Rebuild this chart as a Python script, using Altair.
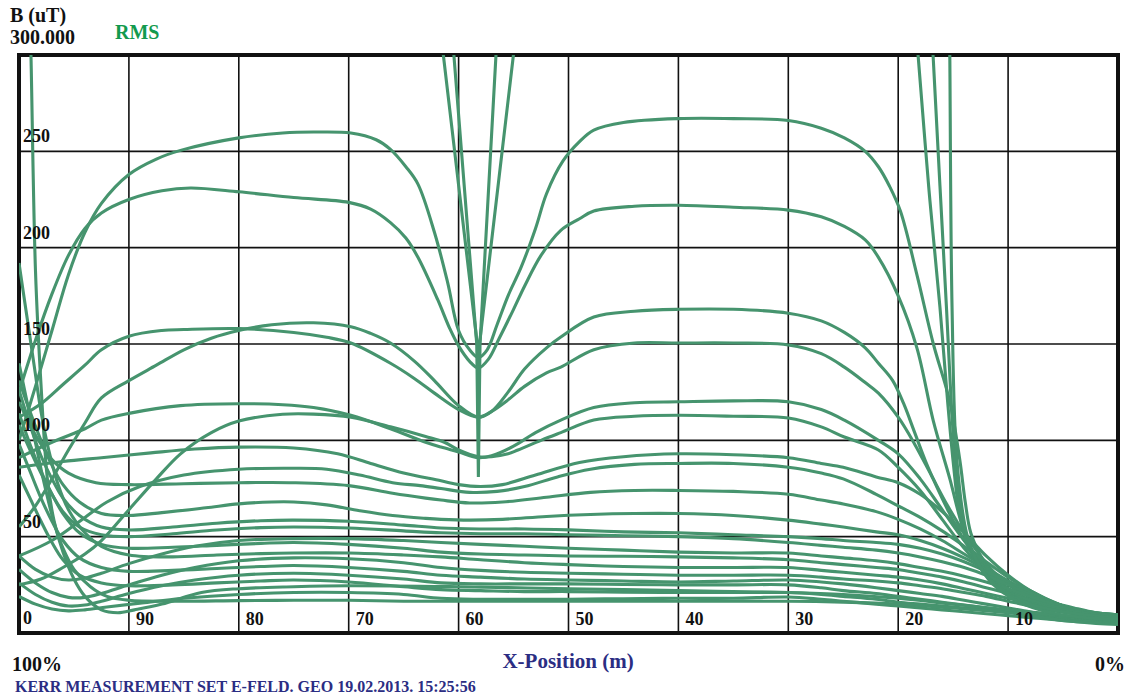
import altair as alt
import pandas as pd

GREEN = "#46946e"
NAVY = "#2b2d83"
RMS_GREEN = "#129a4e"
INK = "#111111"
SERIF = "Liberation Serif"

W, H = 1099, 578

# Field profiles: (x-position, B in uT) pairs, running from 100 (left) to 0 (right)
profile_top_outer = [(100, 100), (98.5, 128), (97, 157), (95.5, 186), (94, 208), (92.5, 223),
                     (90, 238), (87.5, 246), (85.3, 250.5), (80, 257), (76, 259.5), (73.2, 260), (69.8, 259.5),
                     (67.5, 256), (66.2, 251), (64.8, 242), (63.7, 233), (62.2, 208), (61, 182), (60, 157),
                     (59, 147), (58.2, 143), (57.4, 147), (56.5, 160), (55.5, 175), (54.3, 190), (53, 210),
                     (52, 228), (50.5, 245), (49, 255), (47.7, 261), (45, 265), (40, 267), (35, 267), (30, 266),
                     (27, 262), (24.9, 257), (23, 250), (21.8, 242), (20.8, 232), (19.8, 219), (18.3, 186),
                     (16.8, 150), (15.3, 120), (14.4, 90), (13.9, 68), (13.4, 52), (12.5, 40), (11.5, 31),
                     (9.5, 21), (6.4, 13.5), (3, 10), (0, 8)]
profile_top_inner = [(100, 125), (98.5, 152), (97, 176), (95.5, 196), (94, 210), (92.5, 218),
                     (90, 225), (87, 229.5), (84.4, 231), (80, 229), (75, 226), (70, 223.5), (68, 220),
                     (66.2, 213), (64.8, 205), (63.7, 195), (61.9, 173), (60.8, 158), (60, 149), (59, 141),
                     (58.2, 137.5), (57.3, 142), (56.3, 153), (55, 168), (54, 180), (52.5, 196), (50.7, 209),
                     (49, 215), (47.7, 219), (44, 221.5), (40, 222), (35, 221), (30, 219.5), (27, 216),
                     (24.9, 211), (23, 204), (21.8, 195), (20, 175), (18.3, 148), (16.8, 110), (15.3, 80),
                     (14.3, 58), (13.4, 43), (11.8, 30), (9.5, 20), (6.4, 13), (3, 10), (0, 8)]
profile_mid_a = [(100, 55), (98.5, 66), (97, 80), (95.5, 95), (94, 109), (92.5, 122), (90, 131), (87.5, 139),
                 (85, 147), (82.5, 153), (80, 157), (77, 160), (73.2, 161), (69.8, 159), (68, 155.5),
                 (66.2, 150.5), (64, 141), (62.2, 131), (60, 118), (58.2, 112), (57, 115), (55.5, 125),
                 (54, 137), (52, 148), (50.7, 153.6), (47.7, 164), (44, 167), (40, 168), (35, 168), (30, 166),
                 (27, 162), (24.9, 156), (23, 148), (21.8, 140), (20.5, 131), (19.5, 119), (18.5, 104),
                 (17.5, 89), (16.5, 76), (15.5, 64), (14.5, 53), (13.6, 45), (12.5, 37), (11.8, 31),
                 (9.5, 20), (6.5, 13.5), (3, 10), (0, 8)]
profile_mid_b = [(100, 112), (98, 119), (96, 129), (94, 139), (92.5, 147), (90, 154), (87, 157), (85, 157.5),
                 (80, 158), (75, 156), (72, 153.5), (69.8, 150.5), (66.2, 140), (64, 132), (62.2, 124.5),
                 (60, 116), (58.2, 112), (57, 115), (55.5, 121), (54, 128), (52, 135), (50.7, 138),
                 (47.7, 147), (44, 150.5), (40, 150.5), (35, 150.5), (30, 149.5), (27, 145), (24.9, 138),
                 (23, 130), (21.8, 124.5), (20, 112), (18.5, 98), (17, 82), (15.5, 66), (14, 52), (12.5, 40),
                 (11, 30), (9, 22), (6.5, 15), (3, 11), (0, 9)]
profile_mid_c = [(100, 91), (97, 99), (94, 106), (92.5, 110.5), (90, 114), (85.3, 118), (80, 119), (76, 118.5),
                 (73.2, 117), (69.8, 113), (66.2, 106), (63, 99), (61.6, 96.5), (60, 94), (58.2, 91), (57, 92),
                 (55, 97), (53, 104), (50.7, 110.5), (47.7, 117), (44, 119.5), (40, 120), (35, 120.5),
                 (30, 120), (27, 116), (24.9, 110.5), (21.8, 100), (20, 93), (18, 80), (16, 64), (14, 48),
                 (12, 35), (10, 25), (7, 16), (4, 11), (0, 9)]
profile_mid_d = [(100, 25), (98, 28), (96, 34), (94, 41), (92.5, 48), (90, 64), (87.5, 80), (85.3, 93),
                 (82.5, 104), (80, 110), (76, 113.5), (73.2, 113.6), (69.8, 112), (66.2, 107), (63, 102),
                 (61.3, 99), (60, 95), (58.2, 91.5), (57, 91.5), (55.5, 93), (54.6, 95), (52.5, 100),
                 (50.7, 104), (47.7, 110.5), (44, 112.5), (40, 113), (35, 112.5), (30, 111.6), (27, 107),
                 (24.9, 101.7), (21.8, 95), (20, 86), (18, 74), (16, 59), (14, 44), (12, 32), (10, 23),
                 (7, 15), (4, 11), (0, 8)]
profile_low_01 = [(100, 86), (96, 89), (92.5, 91), (88, 93.5), (84, 95.5), (80, 96.5), (75, 96), (71, 93),
                  (68, 88), (65, 83), (61.6, 79), (60, 77), (58, 76), (56, 77), (53, 82), (49, 88.5),
                  (45, 91.5), (40, 93), (35, 92.5), (30, 91), (27, 88), (25, 86), (22, 81), (20, 78),
                  (18, 72), (16, 63), (14, 52), (12, 40), (10, 30), (8, 22), (5, 14), (2.5, 10), (0, 9)]
profile_low_02 = [(100, 40), (97, 48), (94, 60), (92, 68), (89, 76), (85, 82), (80, 85), (75, 85.5), (72, 85),
                  (69, 82), (66, 78), (63.5, 76.5), (61.6, 75), (59, 73), (56.5, 73.5), (54, 76), (51, 81),
                  (48, 85), (44, 87.5), (40, 88), (35, 88), (30, 86), (27, 83), (25, 80), (22, 72), (20, 66),
                  (18, 60), (16, 53), (14, 45), (12, 37), (10, 29), (8, 22), (5, 14), (2.5, 10.5), (0, 9.5)]
profile_low_03 = [(100, 120), (99, 108), (98, 98), (97, 90), (95.5, 83), (93, 78), (90, 77), (85, 77.5),
                  (80, 78), (75, 78), (70, 76.5), (66, 72.5), (63, 70), (61.6, 69), (59, 67.5), (56, 68),
                  (52, 70.5), (48, 73), (44, 74), (40, 74), (35, 73.5), (30, 72), (27, 69), (25, 67), (22, 63),
                  (20, 59), (18, 54), (16, 48), (14, 41), (12, 34), (10, 27), (8, 21), (6, 16), (4, 12.5),
                  (2, 10.5), (0, 9.5)]
profile_low_04 = [(100, 131), (99, 115), (98, 100), (97, 87), (96, 77), (94.5, 68), (92.5, 62), (90, 61),
                  (87, 62.5), (83, 65), (80, 67), (77, 68), (75, 68), (72, 66.5), (69, 63.5), (66, 61),
                  (63, 59.5), (61.6, 59), (59, 58.6), (56, 59), (52, 60.5), (48, 61.5), (44, 62), (40, 62),
                  (35, 61), (30, 58.6), (27, 56.5), (25, 55), (22, 52.5), (20, 51), (18, 48), (16, 44),
                  (14, 39), (12, 33), (10, 27), (8, 21), (6, 16), (4, 12.5), (2, 10), (0, 9)]
profile_low_05 = [(100, 126), (99, 108), (98, 92), (97, 80), (96, 70), (94.5, 61), (92.5, 55), (90, 53.5),
                  (86, 55), (82, 57), (78, 58.3), (75, 58.6), (70, 58), (65, 56), (61.6, 54.5), (58, 54),
                  (54, 54), (50, 53.5), (45, 52.5), (40, 52), (35, 51), (30, 50), (27, 49), (25, 48), (22, 47),
                  (20, 46), (18, 44), (16, 41), (14, 37), (12, 32), (10, 26), (8, 21), (6, 16), (4, 13),
                  (2, 10.5), (0, 9.5)]
profile_low_06 = [(100, 108), (99, 95), (98, 83), (97, 72), (96, 63), (94.5, 55), (92.5, 51), (90, 50),
                  (86, 51.5), (82, 53.5), (78, 54.7), (75, 55), (70, 54.5), (65, 53), (61.6, 52), (58, 51.5),
                  (54, 51.5), (50, 51), (45, 50.5), (40, 50), (35, 49), (30, 47), (27, 45.5), (25, 44.5),
                  (22, 43), (20, 41.5), (18, 39.5), (16, 37), (14, 34), (12, 30), (10, 25), (8, 20),
                  (6, 15.5), (4, 12.5), (2, 10.5), (0, 9.5)]
profile_low_07 = [(100, 40), (98.5, 33), (97, 29), (95.5, 27.5), (94, 28.5), (92.5, 31), (90, 36), (87, 41),
                  (84, 45), (80, 48), (75, 49), (70, 49), (65, 48), (61.6, 47), (58, 46), (54, 45), (50, 44),
                  (45, 43), (40, 42), (35, 41.5), (30, 41.5), (27, 40), (25, 39), (22, 37.5), (20, 36),
                  (18, 34), (16, 32), (14, 29.5), (12, 26.5), (10, 23), (8, 19), (6, 15), (4, 12), (2, 10),
                  (0, 9)]
profile_low_08 = [(100, 114), (99, 98), (98, 84), (97, 72), (96, 62), (94.5, 52), (92.5, 46), (90, 44),
                  (86, 44.5), (82, 45.5), (78, 46.5), (75, 47), (70, 46), (65, 44), (61.6, 42), (58, 41),
                  (54, 40.5), (50, 40), (45, 39.8), (40, 39.5), (35, 39), (30, 38), (27, 36.5), (25, 35.5),
                  (22, 34), (20, 33), (18, 31), (16, 29), (14, 26.5), (12, 23.5), (10, 20.5), (8, 17),
                  (6, 14), (4, 11.5), (2, 9.5), (0, 8.5)]
profile_low_09 = [(100, 192), (99.3, 165), (98.6, 138), (98, 115), (97.3, 95), (96.5, 78), (95.5, 64),
                  (94, 52), (92.5, 45), (90, 40.5), (86, 39.5), (82, 40.5), (78, 41.2), (75, 41.5), (70, 41.5),
                  (65, 40.5), (61.6, 39.5), (58, 38), (54, 36.5), (50, 35.5), (45, 34.5), (40, 34), (35, 34),
                  (30, 34), (27, 32.5), (25, 31.5), (22, 30), (20, 29), (18, 27.5), (16, 25.5), (14, 23),
                  (12, 20.5), (10, 18), (8, 15.5), (6, 13), (4, 11), (2, 9.5), (0, 8.5)]
profile_low_10 = [(100, 33), (98.5, 26), (97, 21), (95.5, 18.5), (94, 18.5), (92.5, 20.5), (90, 25), (87, 30),
                  (84, 34), (80, 37.5), (75, 39), (70, 38.5), (65, 36.5), (61.6, 34), (58, 32.5), (54, 31.5),
                  (50, 31), (45, 30.5), (40, 30), (35, 30), (30, 30), (27, 29), (25, 28), (22, 27), (20, 26),
                  (18, 24.5), (16, 23), (14, 21), (12, 19), (10, 16.5), (8, 14), (6, 12), (4, 10), (2, 8.5),
                  (0, 7.5)]
profile_low_11 = [(100, 98), (99, 84), (98, 70), (97, 58), (96, 48), (94.5, 39), (92.5, 34), (90, 32),
                  (86, 32.5), (82, 33.5), (78, 34.5), (75, 35), (70, 34), (65, 32), (61.6, 30), (58, 29),
                  (54, 28), (50, 27.5), (45, 27), (40, 26.5), (35, 27), (30, 27.5), (27, 26.5), (25, 25.5),
                  (22, 23.5), (20, 22), (18, 20.5), (16, 19), (14, 17), (12, 15), (10, 13), (8, 11), (6, 9.5),
                  (4, 8), (2, 7), (0, 6.5)]
profile_low_12 = [(100, 26), (98.5, 20), (97, 16), (95.5, 14), (94, 14.5), (92.5, 16.5), (90, 20.5),
                  (87, 24.5), (84, 27.5), (80, 30), (75, 31), (70, 30), (65, 28), (61.6, 26), (58, 25.5),
                  (54, 25.5), (50, 25.5), (45, 25.2), (40, 25), (35, 25), (30, 25), (27, 23.5), (25, 22),
                  (22, 20.5), (20, 19), (18, 17.5), (16, 16), (14, 14.5), (12, 13), (10, 11.5), (8, 10),
                  (6, 8.5), (4, 7), (2, 6), (0, 5.5)]
profile_low_13 = [(100, 82), (99, 70), (98, 58), (97, 47), (96, 38), (94.5, 30), (92.5, 26), (90, 24.5),
                  (86, 25), (82, 26), (78, 27), (75, 27.5), (70, 26.5), (65, 24), (61.6, 22.5), (58, 22),
                  (54, 21.5), (50, 21.5), (45, 21.2), (40, 21), (35, 21), (30, 21), (27, 20), (25, 19),
                  (22, 17.5), (20, 16), (18, 15), (16, 14), (14, 13), (12, 12), (10, 11), (8, 10), (6, 9),
                  (4, 8), (2, 7.5), (0, 7)]
profile_low_14 = [(99, 320), (98.9, 297), (98.5, 188), (98, 129), (97.4, 79), (96.8, 58), (96, 42), (95, 28),
                  (94, 19), (92.5, 12), (91, 10.5), (89.5, 12), (87, 15), (83.4, 21), (80, 23), (75, 24),
                  (70, 24.5), (60, 24), (50, 23), (40, 22), (30, 21), (25, 20), (20, 18), (15, 15), (10, 12),
                  (5, 9), (0, 7)]
profile_low_15 = [(100, 19), (98.5, 15), (97, 12.5), (95.5, 11.5), (94, 12), (92, 13.5), (89, 15.5), (85, 18),
                  (80, 20), (75, 21), (70, 21), (65, 20), (61.6, 18), (58, 17.5), (54, 17.5), (50, 17.5),
                  (45, 17.8), (40, 18), (35, 18), (30, 18.7), (27, 17.5), (25, 16.5), (22, 15), (20, 14),
                  (18, 13), (16, 12), (14, 11), (12, 10), (10, 9), (8, 8), (6, 7), (4, 6), (2, 5.5), (0, 5)]
profile_low_16 = [(100, 140), (99.2, 118), (98.4, 96), (97.6, 75), (96.8, 57), (96, 44), (95, 33), (93.5, 24),
                  (92, 19), (90, 17), (86, 16.5), (80, 16.8), (75, 17), (70, 17), (65, 16.5), (60, 16.5),
                  (50, 16.5), (40, 16.5), (30, 16.5), (25, 16), (20, 15), (15, 13), (10, 10.5), (5, 6.5),
                  (2, 5), (0, 4.5)]
profile_steep_1 = [(18.5, 320), (18.15, 297), (17.2, 230), (16.2, 169), (15.5, 120), (15.0, 89), (14.5, 65),
                   (13.8, 48), (12.8, 36), (11.5, 27), (9.5, 19), (7, 13), (4, 10), (0, 8)]
profile_steep_2 = [(17.02, 320), (16.8, 297), (16.2, 232), (15.6, 168), (15.2, 122), (14.8, 88), (14.4, 66),
                   (13.8, 50), (13, 39), (12, 30), (11, 24), (9, 17), (6, 12), (3, 9.5), (0, 7.5)]
profile_steep_3 = [(15.34, 320), (15.3, 297), (15.1, 169), (14.65, 89), (13.7, 50), (12.6, 35), (11.5, 26),
                   (9, 16), (6.1, 10.5), (3, 8), (0, 7)]

# Straight dips at the 60 m mark (off scale above 300)
spike_outer = [(61.8, 320), (58.2, 145), (54.6, 320)]
spike_inner = [(60.5, 305), (58.35, 150), (58.2, 81), (58.05, 150), (56.55, 305)]

smooth_profiles = [profile_top_outer, profile_top_inner, profile_mid_a, profile_mid_b, profile_mid_c,
                   profile_mid_d, profile_low_01, profile_low_02, profile_low_03, profile_low_04,
                   profile_low_05, profile_low_06, profile_low_07, profile_low_08, profile_low_09,
                   profile_low_10, profile_low_11, profile_low_12, profile_low_13, profile_low_14,
                   profile_low_15, profile_low_16, profile_steep_1, profile_steep_2, profile_steep_3]
straight_profiles = [spike_outer, spike_inner]

x_grid = [90, 80, 70, 60, 50, 40, 30, 20, 10]
y_grid = [50, 100, 150, 200, 250]
x_tick_values = [90, 80, 70, 60, 50, 40, 30, 20, 10]
x_tick_labels = ["90", "80", "70", "60", "50", "40", "30", "20", "10"]
y_tick_values = [0, 50, 100, 150, 200, 250]
y_tick_labels = ["0", "50", "100", "150", "200", "250"]


def to_frame(profiles, tag):
    rows = []
    for k, pts in enumerate(profiles):
        for i, (p, b) in enumerate(pts):
            rows.append({"curve": f"{tag}{k}", "seq": i, "pos": p, "b": b})
    return pd.DataFrame(rows)


xs = alt.Scale(domain=[0, 100], reverse=True, nice=False)
ys = alt.Scale(domain=[0, 300], nice=False)

grid_v = alt.Chart(pd.DataFrame({"pos": x_grid})).mark_rule(color=INK, strokeWidth=1.6).encode(
    x=alt.X("pos:Q", scale=xs, axis=None), y=alt.value(0), y2=alt.value(H))
grid_h = alt.Chart(pd.DataFrame({"b": y_grid})).mark_rule(color=INK, strokeWidth=1.6).encode(
    y=alt.Y("b:Q", scale=ys, axis=None), x=alt.value(0), x2=alt.value(W))

line_enc = dict(
    x=alt.X("pos:Q", scale=xs, axis=None),
    y=alt.Y("b:Q", scale=ys, axis=None),
    detail="curve:N",
    order="seq:Q",
)
smooth = alt.Chart(to_frame(smooth_profiles, "s")).mark_line(
    interpolate="catmull-rom", clip=True, color=GREEN, strokeWidth=3.1).encode(**line_enc)
straight = alt.Chart(to_frame(straight_profiles, "v")).mark_line(
    interpolate="linear", clip=True, color=GREEN, strokeWidth=3.1).encode(**line_enc)

label_style = dict(font=SERIF, fontWeight="bold", fontSize=18, color=INK, align="left", baseline="alphabetic")
y_labels = alt.Chart(pd.DataFrame({"b": y_tick_values, "t": y_tick_labels})).mark_text(
    dx=0, dy=-9, **label_style).encode(y=alt.Y("b:Q", scale=ys, axis=None), x=alt.value(4), text="t:N")
x_labels = alt.Chart(pd.DataFrame({"pos": x_tick_values, "t": x_tick_labels})).mark_text(
    dx=7, **label_style).encode(x=alt.X("pos:Q", scale=xs, axis=None), y=alt.value(H - 8), text="t:N")


def note(text, x, y, size=20, color=INK, align="left"):
    return alt.Chart(pd.DataFrame({"t": [text]})).mark_text(
        font=SERIF, fontWeight="bold", fontSize=size, color=color, align=align, baseline="alphabetic"
    ).encode(x=alt.value(x), y=alt.value(y), text="t:N")


notes = [
    note("B (uT)", -9, -33, size=20),
    note("300.000", -9, -11, size=20),
    note("RMS", 96, -16, color=RMS_GREEN),
    note("100%", -7, H + 38),
    note("0%", W + 7, H + 38, align="right"),
    note("X-Position (m)", 549, H + 35, size=21, color=NAVY, align="center"),
    note("KERR MEASUREMENT SET E-FELD. GEO 19.02.2013. 15:25:56", -4, H + 59, size=16, color=NAVY),
]

chart = alt.layer(grid_v, grid_h, smooth, straight, y_labels, x_labels, *notes).properties(
    width=W, height=H,
    padding={"left": 19, "top": 55, "right": 12, "bottom": 64},
    autosize=alt.AutoSizeParams(type="none"),
    background="white",
).configure_view(stroke=INK, strokeWidth=4)

chart.save("out.html", embed_options={"renderer": "svg", "actions": False})
